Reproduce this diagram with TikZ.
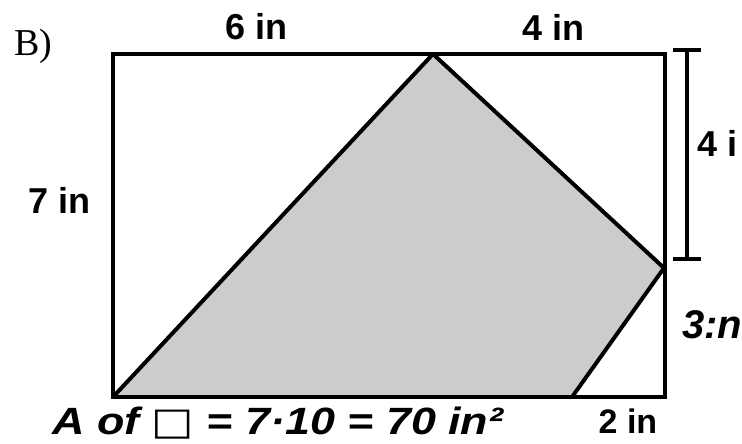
\documentclass[tikz,border=0pt]{standalone}
\usepackage{fontspec}
\setmainfont{Liberation Sans}
\newfontfamily\serifB{Liberation Serif}
\newfontfamily\symfont{DejaVu Sans}
\begin{document}
\begin{tikzpicture}[x=1pt,y=-1pt,
  lbl/.style={inner sep=0pt,font=\fontsize{36}{40}\selectfont\bfseries},
  hand/.style={inner sep=0pt,font=\fontsize{40}{44}\selectfont\bfseries\itshape},
  edge/.style={line width=4pt,line join=round},
  frame/.style={line width=4.5pt},
  dimline/.style={line width=3.5pt}]
\useasboundingbox (0,0) rectangle (742,444);
% vertices
\coordinate (TL) at (113,54);
\coordinate (BR) at (665,397);
\coordinate (BL) at (113,397);
\coordinate (apex) at (433,54);
\coordinate (rv) at (664,268);
\coordinate (bp) at (572,397);
% shaded region
\fill[black!20] (BL) -- (apex) -- (rv) -- (bp) -- cycle;
\draw[edge] (BL) -- (apex) -- (rv) -- (bp);
% rectangle
\draw[frame] (TL) rectangle (BR);
% dimension bar
\coordinate (dT) at (687,50);
\coordinate (dB) at (687,259);
\draw[dimline] (dT) -- (dB);
\draw[dimline] ([xshift=-14pt]dT) -- ([xshift=14pt]dT);
\draw[dimline] ([xshift=-14pt]dB) -- ([xshift=14pt]dB);
% labels
\node[inner sep=0pt,font=\fontsize{38}{42}\selectfont\serifB] (B) at (33,46) {B)};
\node[lbl] (six) at (257,27) {6 in};
\node[lbl] (four) at (554,27) {4 in};
\node[lbl] (seven) at (60,200) {7 in};
\node[lbl,anchor=base west] (fourr) at (697,156) {4 i};
\node[lbl,font=\fontsize{34}{38}\selectfont\bfseries] (two) at (628,421) {2 in};
\node[hand] (three) at (712,325) {3:n};
\node[hand,anchor=base west,xscale=1.18,font=\fontsize{38}{42}\selectfont\bfseries\itshape] (area) at (52,434) {A of {\symfont □} = 7·10 = 70 in²};
\end{tikzpicture}
\end{document}
